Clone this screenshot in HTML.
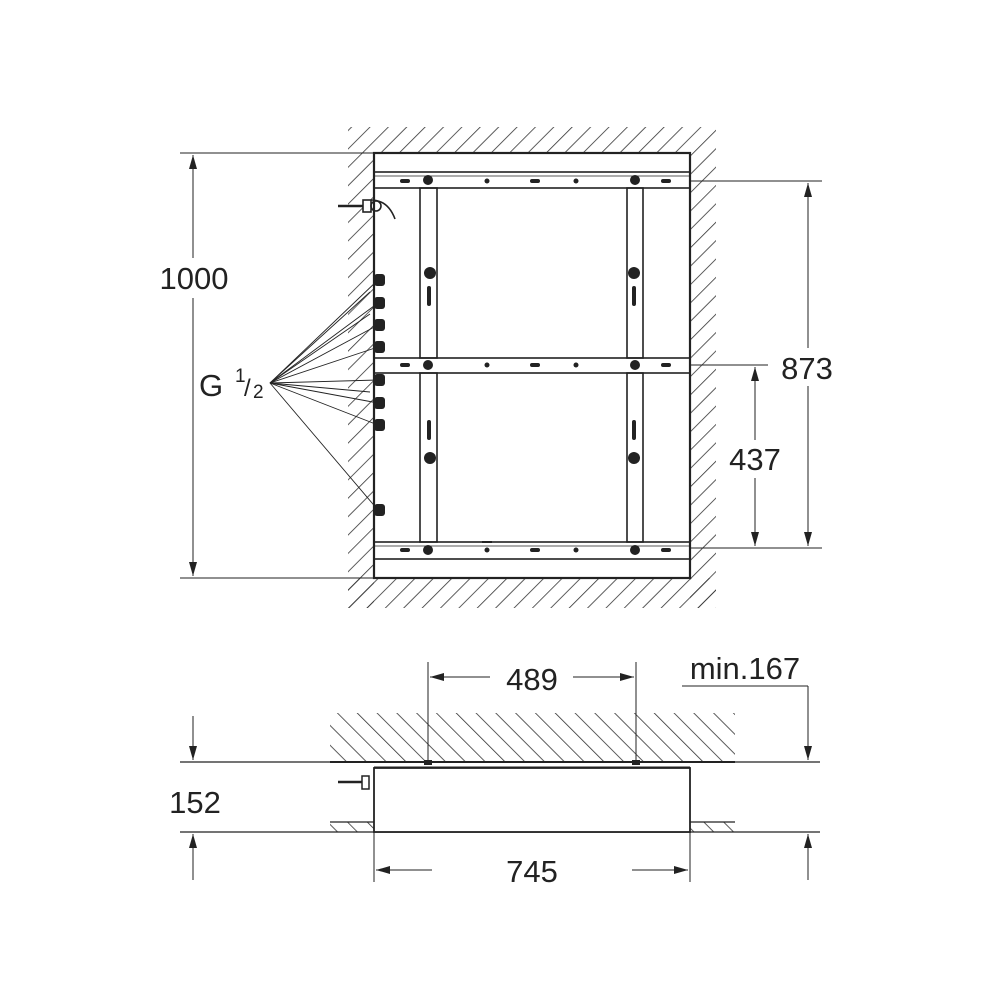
<!DOCTYPE html>
<html><head><meta charset="utf-8"><style>
html,body{margin:0;padding:0;background:#fff;}
svg{display:block;}
text{font-family:"Liberation Sans",sans-serif;fill:#222;}
</style></head><body>
<svg width="1000" height="1000" viewBox="0 0 1000 1000" xmlns="http://www.w3.org/2000/svg">
<defs>
<pattern id="h" patternUnits="userSpaceOnUse" width="13" height="13" patternTransform="rotate(45)">
<line x1="0" y1="0" x2="0" y2="13" stroke="#333" stroke-width="1.6"/>
</pattern>
<pattern id="h2" patternUnits="userSpaceOnUse" width="14" height="14" patternTransform="rotate(-45)">
<line x1="0" y1="0" x2="0" y2="14" stroke="#333" stroke-width="1.6"/>
</pattern>
<marker id="a" markerWidth="14" markerHeight="8" refX="14" refY="4" orient="auto" markerUnits="userSpaceOnUse">
<path d="M0,0 L14,4 L0,8 z" fill="#222"/>
</marker>
<marker id="as" markerWidth="14" markerHeight="8" refX="0" refY="4" orient="auto" markerUnits="userSpaceOnUse">
<path d="M14,0 L0,4 L14,8 z" fill="#222"/>
</marker>
</defs>

<rect x="348" y="127" width="368" height="26" fill="url(#h)"/>
<rect x="348" y="153" width="26" height="455" fill="url(#h)"/>
<rect x="690" y="153" width="26" height="455" fill="url(#h)"/>
<rect x="348" y="578" width="368" height="30" fill="url(#h)"/>

<g stroke="#222" fill="none">
<line x1="180" y1="153" x2="374" y2="153" stroke-width="1"/>
<line x1="180" y1="578" x2="374" y2="578" stroke-width="1"/>
<line x1="690" y1="181" x2="822" y2="181" stroke-width="1"/>
<line x1="690" y1="548" x2="822" y2="548" stroke-width="1"/>
<line x1="690" y1="365" x2="768" y2="365" stroke-width="1"/>

<rect x="374" y="153" width="316" height="425" fill="#fff" stroke-width="2.2"/>
<rect x="374" y="172" width="316" height="16" stroke-width="1.6"/>
<line x1="374" y1="176" x2="690" y2="176" stroke-width="0.8"/>
<rect x="374" y="358" width="316" height="15" stroke-width="1.6"/>
<rect x="374" y="542" width="316" height="17" stroke-width="1.6"/>
<line x1="374" y1="546" x2="690" y2="546" stroke-width="0.8"/>
<rect x="420" y="188" width="17" height="170" stroke-width="1.6"/>
<rect x="420" y="373" width="17" height="169" stroke-width="1.6"/>
<rect x="627" y="188" width="16" height="170" stroke-width="1.6"/>
<rect x="627" y="373" width="16" height="169" stroke-width="1.6"/>
</g>
<g fill="#222">
<circle cx="428" cy="180" r="5"/><circle cx="635" cy="180" r="5"/>
<circle cx="487" cy="181" r="2.5"/><circle cx="576" cy="181" r="2.5"/>
<circle cx="428" cy="365" r="5"/><circle cx="635" cy="365" r="5"/>
<circle cx="487" cy="365" r="2.5"/><circle cx="576" cy="365" r="2.5"/>
<circle cx="428" cy="550" r="5"/><circle cx="635" cy="550" r="5"/>
<circle cx="487" cy="550" r="2.5"/><circle cx="576" cy="550" r="2.5"/>
<circle cx="430" cy="273" r="6"/><circle cx="634" cy="273" r="6"/>
<circle cx="430" cy="458" r="6"/><circle cx="634" cy="458" r="6"/>
<rect x="427" y="286" width="4" height="20" rx="2"/><rect x="632" y="286" width="4" height="20" rx="2"/>
<rect x="427" y="420" width="4" height="20" rx="2"/><rect x="632" y="420" width="4" height="20" rx="2"/>
<rect x="400" y="179" width="10" height="4" rx="2"/><rect x="530" y="179" width="10" height="4" rx="2"/><rect x="661" y="179" width="10" height="4" rx="2"/>
<rect x="400" y="363" width="10" height="4" rx="2"/><rect x="530" y="363" width="10" height="4" rx="2"/><rect x="661" y="363" width="10" height="4" rx="2"/>
<rect x="400" y="548" width="10" height="4" rx="2"/><rect x="530" y="548" width="10" height="4" rx="2"/><rect x="661" y="548" width="10" height="4" rx="2"/>
<rect x="482" y="541" width="10" height="2"/>
<rect x="374" y="274" width="11" height="12" rx="3"/>
<rect x="374" y="297" width="11" height="12" rx="3"/>
<rect x="374" y="319" width="11" height="12" rx="3"/>
<rect x="374" y="341" width="11" height="12" rx="3"/>
<rect x="374" y="374" width="11" height="12" rx="3"/>
<rect x="374" y="397" width="11" height="12" rx="3"/>
<rect x="374" y="419" width="11" height="12" rx="3"/>
<rect x="374" y="504" width="11" height="12" rx="3"/>
</g>
<g stroke="#222" fill="none" stroke-width="1.6">
<line x1="338" y1="206" x2="365" y2="206" stroke-width="2.5"/>
<rect x="363" y="200" width="8" height="12" fill="#fff"/>
<path d="M371,200 Q388,200 395,219"/>
<circle cx="376" cy="206" r="5"/>
</g>
<g stroke="#222" stroke-width="0.9">
<line x1="270" y1="383" x2="378" y2="280"/>
<line x1="270" y1="383" x2="378" y2="303"/>
<line x1="270" y1="383" x2="378" y2="325"/>
<line x1="270" y1="383" x2="378" y2="347"/>
<line x1="270" y1="383" x2="378" y2="380"/>
<line x1="270" y1="383" x2="378" y2="403"/>
<line x1="270" y1="383" x2="378" y2="425"/>
<line x1="270" y1="383" x2="378" y2="510"/>
<line x1="270" y1="383" x2="370" y2="292"/>
<line x1="270" y1="383" x2="370" y2="314"/>
<line x1="270" y1="383" x2="370" y2="392"/>
</g>
<text x="199" y="396" font-size="31">G</text>
<text x="235" y="382" font-size="19">1</text>
<text x="244" y="396" font-size="24">/</text>
<text x="253" y="398" font-size="19">2</text>

<g stroke="#222" stroke-width="1">
<line x1="193" y1="155" x2="193" y2="576" marker-start="url(#as)" marker-end="url(#a)"/>
<line x1="808" y1="183" x2="808" y2="546" marker-start="url(#as)" marker-end="url(#a)"/>
<line x1="755" y1="367" x2="755" y2="546" marker-start="url(#as)" marker-end="url(#a)"/>
</g>
<rect x="150" y="258" width="90" height="40" fill="#fff"/>
<text x="194" y="289" font-size="31" text-anchor="middle">1000</text>
<rect x="773" y="348" width="70" height="38" fill="#fff"/>
<text x="807" y="379" font-size="31" text-anchor="middle">873</text>
<rect x="720" y="440" width="70" height="38" fill="#fff"/>
<text x="755" y="470" font-size="31" text-anchor="middle">437</text>

<rect x="330" y="713" width="405" height="49" fill="url(#h2)"/>
<rect x="330" y="822" width="44" height="10" fill="url(#h2)"/>
<rect x="690" y="822" width="45" height="10" fill="url(#h2)"/>
<g stroke="#222" fill="none">
<line x1="180" y1="762" x2="820" y2="762" stroke-width="1.2"/>
<line x1="330" y1="762" x2="735" y2="762" stroke-width="2"/>
<line x1="180" y1="832" x2="820" y2="832" stroke-width="1.2"/>
<line x1="330" y1="822" x2="374" y2="822" stroke-width="1.2"/>
<line x1="690" y1="822" x2="735" y2="822" stroke-width="1.2"/>
<rect x="374" y="768" width="316" height="64" fill="#fff" stroke-width="1.8"/>
<line x1="374" y1="767" x2="690" y2="767" stroke-width="1"/>
<line x1="338" y1="782" x2="362" y2="782" stroke-width="2.5"/>
<rect x="362" y="776" width="7" height="13" stroke-width="1.5" fill="#fff"/>
<line x1="428" y1="662" x2="428" y2="762" stroke-width="1"/>
<line x1="636" y1="662" x2="636" y2="762" stroke-width="1"/>
<line x1="430" y1="677" x2="490" y2="677" stroke-width="1" marker-start="url(#as)"/>
<line x1="573" y1="677" x2="634" y2="677" stroke-width="1" marker-end="url(#a)"/>
<line x1="682" y1="686" x2="808" y2="686" stroke-width="1"/>
<line x1="808" y1="686" x2="808" y2="760" stroke-width="1" marker-end="url(#a)"/>
<line x1="374" y1="832" x2="374" y2="882" stroke-width="1"/>
<line x1="690" y1="832" x2="690" y2="882" stroke-width="1"/>
<line x1="376" y1="870" x2="432" y2="870" stroke-width="1" marker-start="url(#as)"/>
<line x1="632" y1="870" x2="688" y2="870" stroke-width="1" marker-end="url(#a)"/>
<line x1="193" y1="716" x2="193" y2="760" stroke-width="1" marker-end="url(#a)"/>
<line x1="193" y1="880" x2="193" y2="834" stroke-width="1" marker-end="url(#a)"/>
<line x1="808" y1="880" x2="808" y2="834" stroke-width="1" marker-end="url(#a)"/>
</g>
<rect x="424" y="760" width="8" height="5" fill="#222"/>
<rect x="632" y="760" width="8" height="5" fill="#222"/>
<text x="532" y="690" font-size="31" text-anchor="middle">489</text>
<text x="745" y="679" font-size="31" text-anchor="middle">min.167</text>
<text x="532" y="882" font-size="31" text-anchor="middle">745</text>
<text x="195" y="813" font-size="31" text-anchor="middle">152</text>
</svg>
</body></html>
